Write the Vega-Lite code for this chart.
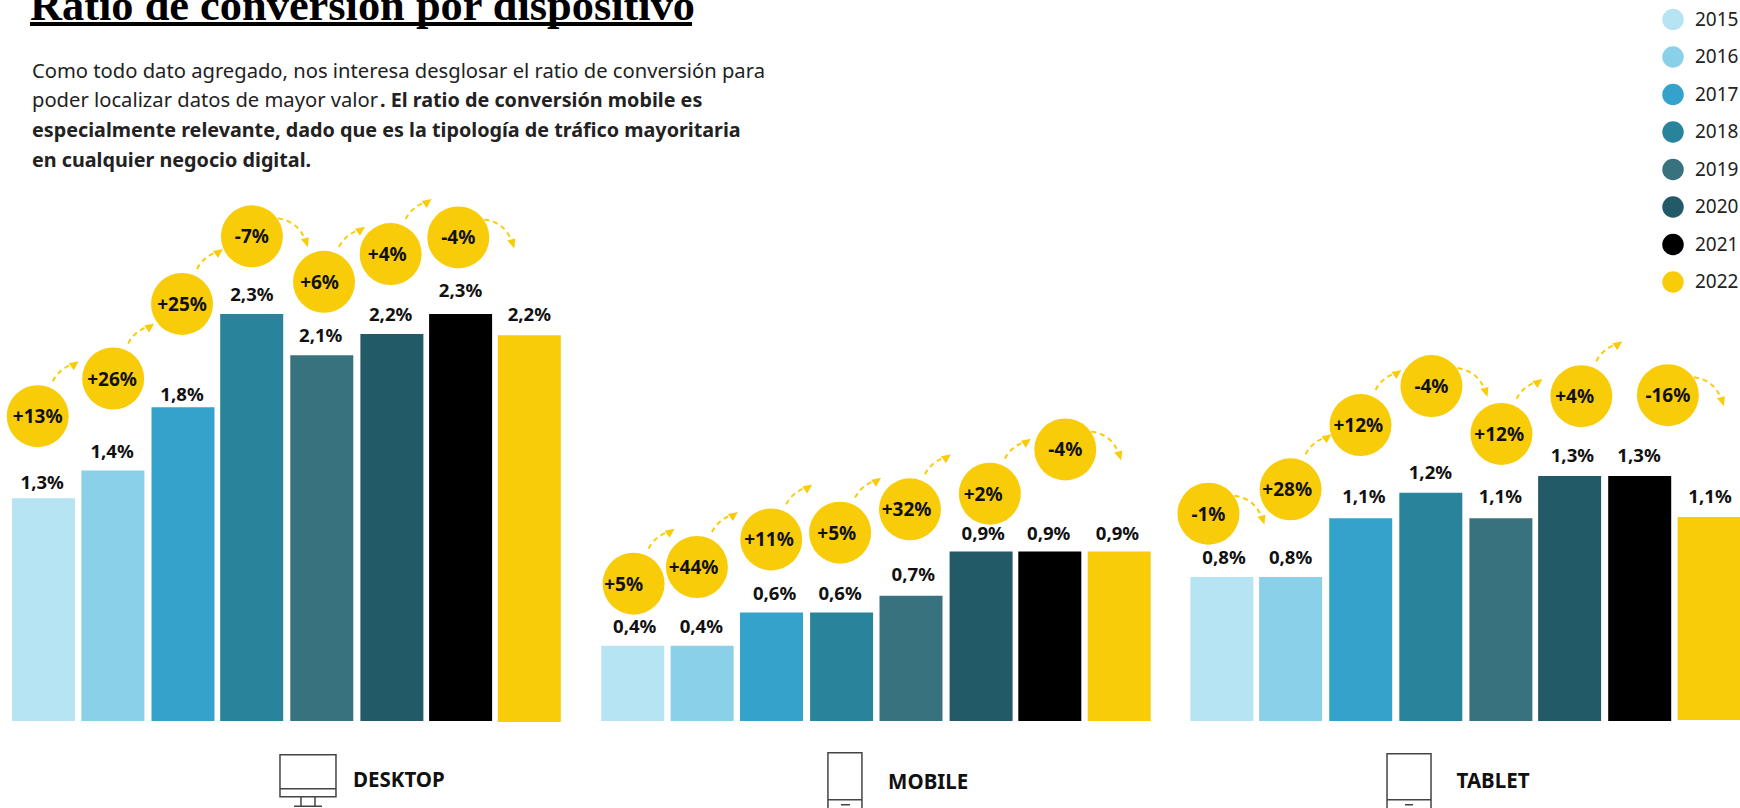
{
"$schema":"https://vega.github.io/schema/vega-lite/v6.json",
"width":1740,"height":808,"autosize":{"type":"none"},"padding":0,"background":"white",
"config":{"view":{"stroke":null},"text":{"font":"Noto Sans"}},
"datasets":{
"bars":[
{"device":"Desktop","year":"2015","ratio":1.258,"base":0,"slot":0,"label":"1,3%","labelSlot":-0.019,"labelY":1.352},
{"device":"Desktop","year":"2016","ratio":1.415,"base":0,"slot":1,"label":"1,4%","labelSlot":0.988,"labelY":1.528},
{"device":"Desktop","year":"2017","ratio":1.772,"base":0,"slot":2.01,"label":"1,8%","labelSlot":1.996,"labelY":1.848},
{"device":"Desktop","year":"2018","ratio":2.299,"base":0,"slot":3,"label":"2,3%","labelSlot":3.003,"labelY":2.412},
{"device":"Desktop","year":"2019","ratio":2.067,"base":0,"slot":4.01,"label":"2,1%","labelSlot":3.994,"labelY":2.18},
{"device":"Desktop","year":"2020","ratio":2.186,"base":0,"slot":5.02,"label":"2,2%","labelSlot":5.002,"labelY":2.299},
{"device":"Desktop","year":"2021","ratio":2.299,"base":0,"slot":6.01,"label":"2,3%","labelSlot":6.009,"labelY":2.437},
{"device":"Desktop","year":"2022","ratio":2.18,"base":-0.006,"slot":7,"label":"2,2%","labelSlot":7,"labelY":2.299},
{"device":"Mobile","year":"2015","ratio":0.425,"base":0,"slot":8.49,"label":"0,4%","labelSlot":8.519,"labelY":0.537},
{"device":"Mobile","year":"2016","ratio":0.425,"base":0,"slot":9.49,"label":"0,4%","labelSlot":9.479,"labelY":0.537},
{"device":"Mobile","year":"2017","ratio":0.613,"base":0,"slot":10.49,"label":"0,6%","labelSlot":10.534,"labelY":0.725},
{"device":"Mobile","year":"2018","ratio":0.613,"base":0,"slot":11.5,"label":"0,6%","labelSlot":11.478,"labelY":0.725},
{"device":"Mobile","year":"2019","ratio":0.707,"base":0,"slot":12.5,"label":"0,7%","labelSlot":12.533,"labelY":0.832},
{"device":"Mobile","year":"2020","ratio":0.957,"base":0,"slot":13.51,"label":"0,9%","labelSlot":13.54,"labelY":1.064},
{"device":"Mobile","year":"2021","ratio":0.957,"base":0,"slot":14.5,"label":"0,9%","labelSlot":14.484,"labelY":1.064},
{"device":"Mobile","year":"2022","ratio":0.957,"base":0,"slot":15.5,"label":"0,9%","labelSlot":15.475,"labelY":1.064},
{"device":"Tablet","year":"2015","ratio":0.813,"base":0,"slot":16.98,"label":"0,8%","labelSlot":17.01,"labelY":0.926},
{"device":"Tablet","year":"2016","ratio":0.813,"base":0,"slot":17.97,"label":"0,8%","labelSlot":17.969,"labelY":0.926},
{"device":"Tablet","year":"2017","ratio":1.146,"base":0,"slot":18.98,"label":"1,1%","labelSlot":19.025,"labelY":1.271},
{"device":"Tablet","year":"2018","ratio":1.29,"base":0,"slot":19.99,"label":"1,2%","labelSlot":19.984,"labelY":1.409},
{"device":"Tablet","year":"2019","ratio":1.146,"base":0,"slot":21,"label":"1,1%","labelSlot":20.992,"labelY":1.271},
{"device":"Tablet","year":"2020","ratio":1.384,"base":0,"slot":21.99,"label":"1,3%","labelSlot":22.03,"labelY":1.503},
{"device":"Tablet","year":"2021","ratio":1.384,"base":0,"slot":23,"label":"1,3%","labelSlot":22.99,"labelY":1.503},
{"device":"Tablet","year":"2022","ratio":1.152,"base":0.006,"slot":24,"label":"1,1%","labelSlot":24.013,"labelY":1.271}
],
"changes":[
{"device":"Desktop","change":"+13%","dir":"up","slot":-0.083,"level":1.722,"textSlot":-0.083},
{"device":"Desktop","change":"+26%","dir":"up","slot":1.004,"level":1.935,"textSlot":0.988},
{"device":"Desktop","change":"+25%","dir":"up","slot":1.996,"level":2.356,"textSlot":1.996},
{"device":"Desktop","change":"-7%","dir":"down","slot":3.003,"level":2.738,"textSlot":3.003},
{"device":"Desktop","change":"+6%","dir":"up","slot":4.042,"level":2.481,"textSlot":3.978},
{"device":"Desktop","change":"+4%","dir":"up","slot":5.002,"level":2.638,"textSlot":4.954},
{"device":"Desktop","change":"-4%","dir":"down","slot":5.977,"level":2.732,"textSlot":5.977},
{"device":"Mobile","change":"+5%","dir":"up","slot":8.503,"level":0.776,"textSlot":8.36},
{"device":"Mobile","change":"+44%","dir":"up","slot":9.415,"level":0.87,"textSlot":9.367},
{"device":"Mobile","change":"+11%","dir":"up","slot":10.486,"level":1.026,"textSlot":10.454},
{"device":"Mobile","change":"+5%","dir":"up","slot":11.478,"level":1.064,"textSlot":11.43},
{"device":"Mobile","change":"+32%","dir":"up","slot":12.485,"level":1.196,"textSlot":12.437},
{"device":"Mobile","change":"+2%","dir":"up","slot":13.636,"level":1.284,"textSlot":13.54},
{"device":"Mobile","change":"-4%","dir":"down","slot":14.723,"level":1.534,"textSlot":14.723},
{"device":"Tablet","change":"-1%","dir":"down","slot":16.786,"level":1.171,"textSlot":16.786},
{"device":"Tablet","change":"+28%","dir":"up","slot":17.969,"level":1.309,"textSlot":17.921},
{"device":"Tablet","change":"+12%","dir":"up","slot":18.977,"level":1.672,"textSlot":18.945},
{"device":"Tablet","change":"-4%","dir":"down","slot":19.999,"level":1.892,"textSlot":19.999},
{"device":"Tablet","change":"+12%","dir":"up","slot":21.008,"level":1.622,"textSlot":20.976},
{"device":"Tablet","change":"+4%","dir":"up","slot":22.159,"level":1.835,"textSlot":22.063},
{"device":"Tablet","change":"-16%","dir":"down","slot":23.406,"level":1.841,"textSlot":23.406}
],
"devices":[
{"device":"DESKTOP","icon":"monitor","iconSlot":3.811,"iconLevel":-0.31,"textSlot":4.46,"textLevel":-0.333},
{"device":"MOBILE","icon":"phone","iconSlot":11.548,"iconLevel":-0.338,"textSlot":12.17,"textLevel":-0.346},
{"device":"TABLET","icon":"tablet","iconSlot":19.676,"iconLevel":-0.338,"textSlot":20.36,"textLevel":-0.34}
],
"regular":[
{"text":"Como todo dato agregado, nos interesa desglosar el ratio de conversión para","slot":-0.166,"level":3.672},
{"text":"poder localizar datos de mayor valor","slot":-0.166,"level":3.506}
],
"bold":[
{"text":". El ratio de conversión mobile es","slot":4.849,"level":3.506},
{"text":"especialmente relevante, dado que es la tipología de tráfico mayoritaria","slot":-0.166,"level":3.339},
{"text":"en cualquier negocio digital.","slot":-0.166,"level":3.172}
],
"title":[{"text":"Ratio de conversión por dispositivo","slot":-0.195,"end":9.345,"level":3.96,"rule":3.938}]
},
"layer":[
{"data":{"name":"bars"},"mark":{"type":"bar","size":63,"orient":"vertical"},
"encoding":{
"x":{"field":"slot","type":"quantitative","axis":null,"scale":{"domain":[-0.6268,24.4452],"nice":false,"zero":false,"padding":0}},
"y":{"field":"ratio","type":"quantitative","axis":null,"stack":null,"scale":{"domain":[-0.4915,4.0734],"nice":false,"zero":false,"padding":0}},
"y2":{"field":"base"},
"color":{"field":"year","type":"nominal","scale":{"domain":["2015","2016","2017","2018","2019","2020","2021","2022"],"range":["#B7E4F3","#89D0E8","#34A2CB","#28839B","#39727F","#225B67","#000000","#F9CC0A"]},
"legend":{"orient":"none","legendX":1662,"legendY":8.5,"title":null,"symbolType":"circle","symbolSize":462,"symbolStrokeWidth":0,"labelFont":"Noto Sans","labelFontSize":19,"labelColor":"#222222","labelOffset":11,"rowPadding":15.5,"padding":0,"labelLimit":100}}
}},
{"data":{"name":"bars"},"mark":{"type":"text","fontWeight":700,"fontSize":18.6,"dy":1,"color":"#111111","baseline":"middle","align":"center"},
"encoding":{"x":{"field":"labelSlot","type":"quantitative"},"y":{"field":"labelY","type":"quantitative"},"text":{"field":"label"}}},
{"data":{"name":"changes"},"mark":{"type":"point","filled":false,"size":4,"opacity":1,"strokeWidth":2,"strokeDash":[5,4],"color":"#F9CC0A"},
"encoding":{"x":{"field":"slot","type":"quantitative"},"y":{"field":"level","type":"quantitative"},
"shape":{"field":"dir","type":"nominal","legend":null,"scale":{"domain":["up","down"],"range":["M15 -35 Q21 -47 35 -52","M26 -18 Q46 -15 53 3"]}}}},
{"data":{"name":"changes"},"mark":{"type":"point","filled":true,"size":4,"opacity":1,"color":"#F9CC0A"},
"encoding":{"x":{"field":"slot","type":"quantitative"},"y":{"field":"level","type":"quantitative"},
"shape":{"field":"dir","type":"nominal","legend":null,"scale":{"domain":["up","down"],"range":["M41 -55 L31 -53 L36 -46 Z","M56 11 L49 3 L57 1 Z"]}}}},
{"data":{"name":"changes"},"mark":{"type":"circle","size":3844,"opacity":1,"color":"#F9CC0A"},
"encoding":{"x":{"field":"slot","type":"quantitative"},"y":{"field":"level","type":"quantitative"}}},
{"data":{"name":"changes"},"mark":{"type":"text","fontWeight":700,"fontSize":19,"dy":1,"color":"#111111","baseline":"middle","align":"center"},
"encoding":{"x":{"field":"textSlot","type":"quantitative"},"y":{"field":"level","type":"quantitative"},"text":{"field":"change"}}},
{"data":{"name":"devices"},"mark":{"type":"point","filled":false,"size":4,"opacity":1,"strokeWidth":1.5,"color":"#444444"},
"encoding":{"x":{"field":"iconSlot","type":"quantitative"},"y":{"field":"iconLevel","type":"quantitative"},
"shape":{"field":"icon","type":"nominal","legend":null,"scale":{"domain":["monitor","phone","tablet"],"range":["M-28 -21 H28 V21 H-28 Z M-28 13 H28 M-7 21 V30 M7 21 V30 M-14 30.5 H14","M-17 -28 H17 V45 H-17 Z M-17 19 H17 M-4 24 H5","M-22 -27 H22 V45 H-22 Z M-22 19 H22 M-4 24 H4"]}}}},
{"data":{"name":"devices"},"mark":{"type":"text","fontWeight":700,"fontSize":20.5,"dy":1,"color":"#111111","baseline":"middle","align":"left"},
"encoding":{"x":{"field":"textSlot","type":"quantitative"},"y":{"field":"textLevel","type":"quantitative"},"text":{"field":"device"}}},
{"data":{"name":"regular"},"mark":{"type":"text","fontSize":20.2,"dy":1,"color":"#222222","baseline":"middle","align":"left"},
"encoding":{"x":{"field":"slot","type":"quantitative"},"y":{"field":"level","type":"quantitative"},"text":{"field":"text"}}},
{"data":{"name":"bold"},"mark":{"type":"text","fontSize":19.75,"dy":1,"fontWeight":700,"color":"#222222","baseline":"middle","align":"left"},
"encoding":{"x":{"field":"slot","type":"quantitative"},"y":{"field":"level","type":"quantitative"},"text":{"field":"text"}}},
{"data":{"name":"title"},"mark":{"type":"text","font":"Liberation Serif","fontWeight":700,"fontSize":44.4,"color":"#000000","baseline":"alphabetic","align":"left"},
"encoding":{"x":{"field":"slot","type":"quantitative"},"y":{"field":"level","type":"quantitative"},"text":{"field":"text"}}},
{"data":{"name":"title"},"mark":{"type":"rule","strokeWidth":4,"color":"#000000"},
"encoding":{"x":{"field":"slot","type":"quantitative"},"x2":{"field":"end"},"y":{"field":"rule","type":"quantitative"}}}
],
"resolve":{"scale":{"shape":"independent"}}
}
